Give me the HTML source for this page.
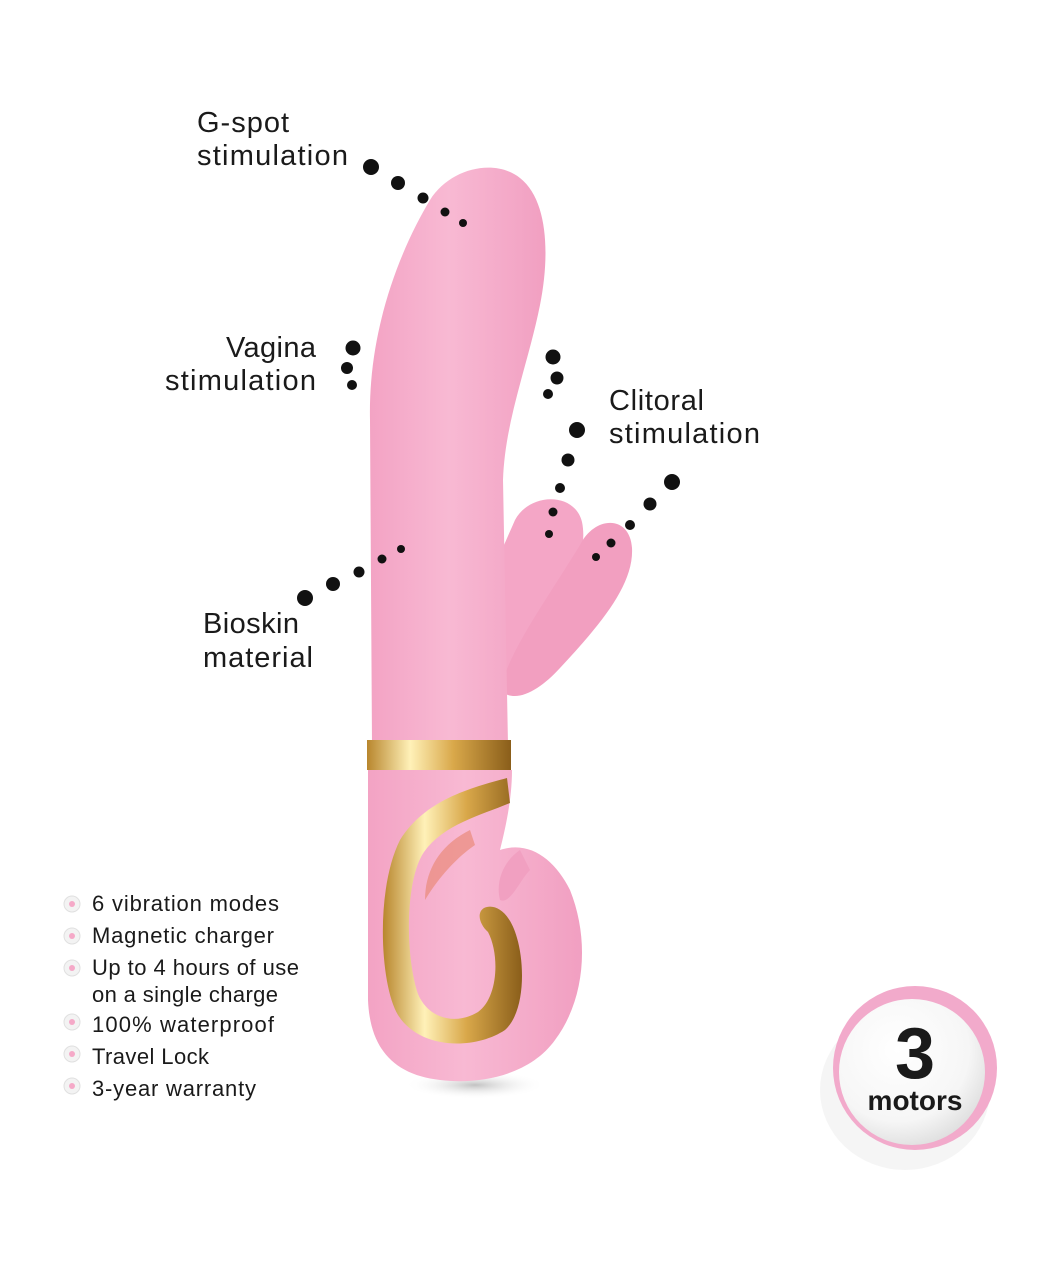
<!DOCTYPE html>
<html><head><meta charset="utf-8"><style>
html,body{margin:0;padding:0;background:#fff;}
svg{display:block}
text{font-family:"Liberation Sans",sans-serif;fill:#1a1a1a}
</style></head><body>
<svg width="1064" height="1280" viewBox="0 0 1064 1280" xmlns="http://www.w3.org/2000/svg">
<defs>
<linearGradient id="pk" x1="0" x2="1" y1="0" y2="0">
<stop offset="0" stop-color="#f3a3c4"/><stop offset="0.45" stop-color="#f8b9d3"/><stop offset="1" stop-color="#f19fc1"/></linearGradient>
<linearGradient id="gd" x1="0" x2="1" y1="0" y2="0">
<stop offset="0" stop-color="#b8862d"/><stop offset="0.3" stop-color="#fff1b8"/><stop offset="0.6" stop-color="#d9a84a"/><stop offset="1" stop-color="#8a5e1a"/></linearGradient>
<radialGradient id="sh" cx="0.5" cy="0.5" r="0.5"><stop offset="0" stop-color="#999" stop-opacity="0.6"/><stop offset="1" stop-color="#fff" stop-opacity="0"/></radialGradient>
<radialGradient id="bd" cx="0.4" cy="0.35" r="0.7"><stop offset="0" stop-color="#fff"/><stop offset="0.7" stop-color="#f6f6f6"/><stop offset="1" stop-color="#ddd"/></radialGradient>
</defs>
<rect width="1064" height="1280" fill="#fff"/>
<ellipse cx="475" cy="1085" rx="70" ry="14" fill="url(#sh)"/>
<!-- ears -->
<path d="M470 690 C455 650 480 600 515 520 C530 492 575 492 582 522 C590 560 560 610 522 660 C500 690 485 700 470 690Z" fill="#f4a6c6"/>
<path d="M500 690 C510 650 540 610 580 545 C595 515 630 515 632 548 C634 585 600 625 560 668 C540 690 515 705 500 690Z" fill="#f29fc0"/>
<!-- main shaft -->
<path d="M372 745 L370 420 C368 330 400 250 430 200 C450 168 495 158 520 178 C548 200 550 255 540 305 C528 365 505 420 503 480 L508 745 Z" fill="url(#pk)"/>
<!-- handle -->
<path d="M368 770 L512 770 C512 800 505 830 500 850 C530 840 555 860 570 890 C590 940 585 1000 555 1040 C530 1075 480 1085 440 1080 C395 1075 370 1050 368 1000 Z" fill="url(#pk)"/>
<path d="M520 850 C505 860 495 880 500 900 C510 905 520 880 530 870 Z" fill="#f1a0c1"/>
<rect x="367" y="740" width="144" height="30" fill="url(#gd)"/>
<!-- gold loop -->
<path d="M507 778 C470 788 425 800 400 840 C375 890 380 985 398 1015 C420 1050 475 1050 505 1030 C525 1012 525 965 517 938 C510 912 495 903 484 908 C476 913 480 925 488 932 C500 955 498 998 478 1012 C455 1026 428 1018 418 994 C405 955 405 880 424 852 C444 824 482 815 510 803 Z" fill="url(#gd)"/>
<path d="M470 830 C440 845 425 870 425 900 C440 875 460 855 475 845 Z" fill="#e98a7a" opacity="0.7"/>
<!-- labels -->
<g font-size="29" lengthAdjust="spacingAndGlyphs">
<text x="197" y="132" textLength="92">G-spot</text>
<text x="197" y="165" textLength="151">stimulation</text>
<text x="226" y="357" textLength="90">Vagina</text>
<text x="165" y="390" textLength="151">stimulation</text>
<text x="609" y="410" textLength="95">Clitoral</text>
<text x="609" y="443" textLength="151">stimulation</text>
<text x="203" y="633" textLength="96">Bioskin</text>
<text x="203" y="667" textLength="110">material</text>
</g>
<g fill="#111">
<circle cx="371" cy="167" r="8"/><circle cx="398" cy="183" r="7"/><circle cx="423" cy="198" r="5.5"/><circle cx="445" cy="212" r="4.5"/><circle cx="463" cy="223" r="4"/>
<circle cx="353" cy="348" r="7.5"/><circle cx="347" cy="368" r="6"/><circle cx="352" cy="385" r="5"/>
<circle cx="553" cy="357" r="7.5"/><circle cx="557" cy="378" r="6.5"/><circle cx="548" cy="394" r="5"/>
<circle cx="577" cy="430" r="8"/><circle cx="568" cy="460" r="6.5"/><circle cx="560" cy="488" r="5"/><circle cx="553" cy="512" r="4.5"/><circle cx="549" cy="534" r="4"/>
<circle cx="672" cy="482" r="8"/><circle cx="650" cy="504" r="6.5"/><circle cx="630" cy="525" r="5"/><circle cx="611" cy="543" r="4.5"/><circle cx="596" cy="557" r="4"/>
<circle cx="305" cy="598" r="8"/><circle cx="333" cy="584" r="7"/><circle cx="359" cy="572" r="5.5"/><circle cx="382" cy="559" r="4.5"/><circle cx="401" cy="549" r="4"/>
</g>
<g font-size="22" lengthAdjust="spacingAndGlyphs">
<text x="92" y="911" textLength="187">6 vibration modes</text>
<text x="92" y="943" textLength="182">Magnetic charger</text>
<text x="92" y="975" textLength="207">Up to 4 hours of use</text>
<text x="92" y="1002" textLength="186">on a single charge</text>
<text x="92" y="1032" textLength="182">100% waterproof</text>
<text x="92" y="1064" textLength="117">Travel Lock</text>
<text x="92" y="1096" textLength="164">3-year warranty</text>
</g>
<g fill="#f3f3f3" stroke="#e0e0e0" stroke-width="1">
<circle cx="72" cy="904" r="8"/><circle cx="72" cy="936" r="8"/><circle cx="72" cy="968" r="8"/><circle cx="72" cy="1022" r="8"/><circle cx="72" cy="1054" r="8"/><circle cx="72" cy="1086" r="8"/>
</g>
<g fill="#f5a9c8">
<circle cx="72" cy="904" r="3"/><circle cx="72" cy="936" r="3"/><circle cx="72" cy="968" r="3"/><circle cx="72" cy="1022" r="3"/><circle cx="72" cy="1054" r="3"/><circle cx="72" cy="1086" r="3"/>
</g>
<ellipse cx="905" cy="1090" rx="85" ry="80" fill="#eee" opacity="0.6"/>
<circle cx="915" cy="1068" r="82" fill="#f2aacb"/>
<circle cx="912" cy="1072" r="73" fill="url(#bd)"/>
<text x="915" y="1078" font-size="72" font-weight="bold" text-anchor="middle">3</text>
<text x="915" y="1110" font-size="28" font-weight="bold" text-anchor="middle">motors</text>
</svg>
</body></html>
